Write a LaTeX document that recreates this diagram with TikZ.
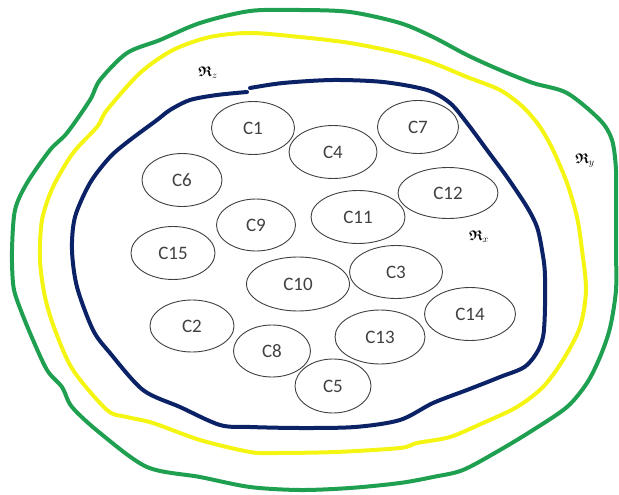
\documentclass[tikz,border=0pt]{standalone}
\usepackage{amsmath}
\usepackage{amssymb}
\usepackage{fontspec}
\setmainfont{Carlito}
\usetikzlibrary{shapes.geometric}
\definecolor{navyline}{RGB}{12,34,102}
\definecolor{yelline}{RGB}{245,245,20}
\definecolor{grnline}{RGB}{30,160,80}
\tikzset{
  cl/.style={draw=black!75, line width=0.9pt, ellipse, inner sep=0pt, text=black!75, font=\fontsize{19}{19}\selectfont},
  ring/.style={line width=4pt, line join=round, line cap=round},
  rlab/.style={font=\fontsize{14}{14}\selectfont, inner sep=0pt}
}
\begin{document}
\begin{tikzpicture}[x=1pt,y=-1pt]
\useasboundingbox (0,0) rectangle (619,495);
% green outer
\draw[ring, grnline] plot[smooth cycle, tension=0.5] coordinates {
 (100,80) (127,53) (160,40) (200,23) (250,11) (300,10) (350,12) (400,23)
 (433,37) (467,55) (500,70) (533,83) (567,93) (600,120) (612,140) (616,170)
 (616,210) (616,250) (616,290) (610,328) (600,357) (587,383) (567,407)
 (533,430) (500,450) (463,470) (433,477) (400,483) (350,488) (300,490)
 (250,487) (200,477) (147,467) (100,433) (72,407) (62,387) (47,370)
 (30,333) (17,300) (13,283) (12,250) (15,210) (27,183) (50,150) (67,133)
 (90,100)};
% yellow
\draw[ring, yelline] plot[smooth cycle, tension=0.5] coordinates {
 (107,110) (140,73) (173,50) (210,37) (250,33) (300,37) (350,43) (400,53)
 (433,63) (467,77) (500,90) (523,107) (540,127) (553,150) (567,183)
 (577,217) (582,250) (586,290) (580,327) (563,360) (543,387) (517,407)
 (483,423) (450,437) (417,443) (400,448) (336,452) (276,453) (250,452)
 (200,440) (153,423) (127,417) (107,410) (73,370) (55,330) (45,297)
 (40,260) (42,220) (53,187) (73,153) (97,127)};
% navy inner
\draw[ring, navyline] plot[smooth, tension=0.5] coordinates {
 (250,88) (283,83) (333,80) (383,82) (427,90) (450,103) (467,123)
 (487,150) (507,177) (527,207) (537,227) (542,250) (545,277) (543,337)
 (527,365) (500,377) (467,390) (433,403) (400,420) (355,427) (300,428)
 (250,427) (220,425) (180,407) (143,390) (110,353) (93,330) (77,287)
 (72,250) (75,217) (90,183) (110,157) (130,140) (157,120) (170,110)
 (190,100) (217,95) (247,92)};
% clusters
\node[cl, minimum width=83pt, minimum height=53pt] (c1) at (253,128) {C1};
\node[cl, minimum width=88pt, minimum height=53pt] (c4) at (333,152) {C4};
\node[cl, minimum width=81pt, minimum height=53pt] (c7) at (418,127) {C7};
\node[cl, minimum width=80pt, minimum height=53pt] (c6) at (182,180) {C6};
\node[cl, minimum width=100pt, minimum height=51pt] (c12) at (448,193) {C12};
\node[cl, minimum width=79pt, minimum height=52pt] (c9) at (256,225) {C9};
\node[cl, minimum width=94pt, minimum height=53pt] (c11) at (358,217) {C11};
\node[cl, minimum width=84pt, minimum height=53pt] (c15) at (173,253) {C15};
\node[cl, minimum width=103pt, minimum height=54pt] (c10) at (298,284) {C10};
\node[cl, minimum width=93pt, minimum height=53pt] (c3) at (396,272) {C3};
\node[cl, minimum width=91pt, minimum height=53pt] (c14) at (470,314) {C14};
\node[cl, minimum width=84pt, minimum height=52pt] (c2) at (192,326) {C2};
\node[cl, minimum width=90pt, minimum height=54pt] (c13) at (380,337) {C13};
\node[cl, minimum width=77pt, minimum height=52pt] (c8) at (272,351) {C8};
\node[cl, minimum width=76pt, minimum height=54pt] (c5) at (333,386) {C5};
% region labels
\node[rlab] (rz) at (208,73) {$\boldsymbol{\mathfrak{R}}_z$};
\node[rlab] (ry) at (585,161) {$\boldsymbol{\mathfrak{R}}_y$};
\node[rlab] (rx) at (479,237) {$\boldsymbol{\mathfrak{R}}_x$};
\end{tikzpicture}
\end{document}
